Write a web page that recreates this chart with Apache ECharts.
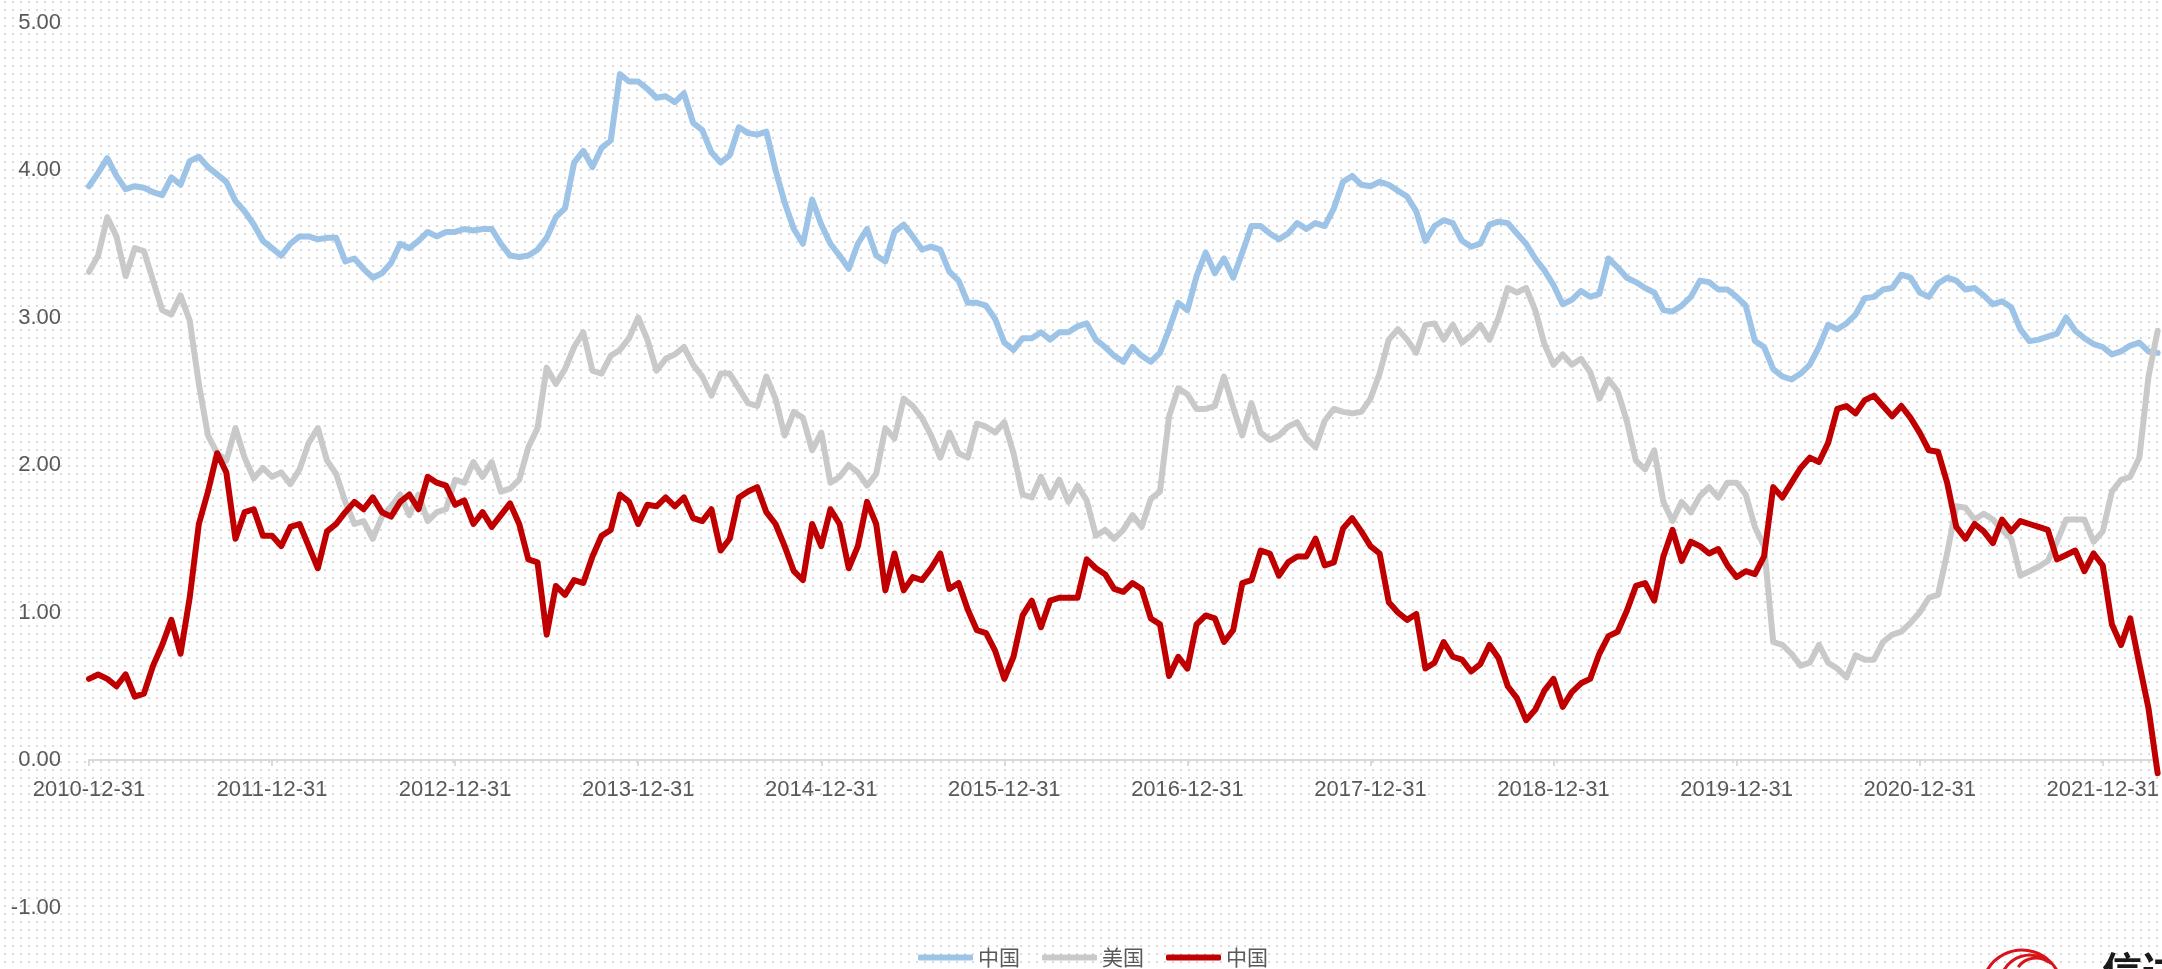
<!DOCTYPE html>
<html>
<head>
<meta charset="utf-8">
<title>中美10年期国债收益率</title>
<script src="https://cdn.jsdelivr.net/npm/echarts@6/dist/echarts.min.js"></script>
<style>
  html, body { margin: 0; padding: 0; background: #fff; }
  #main { width: 2162px; height: 969px; }
</style>
</head>
<body>
<div id="main"></div>
<script>
// 横轴刻度(每年年末)
const tickLabels = ['2010-12-31', '2011-12-31', '2012-12-31', '2013-12-31', '2014-12-31', '2015-12-31',
  '2016-12-31', '2017-12-31', '2018-12-31', '2019-12-31', '2020-12-31', '2021-12-31']
const startYear = 2011 // 即 2010-12-31
const step = 0.05 // 取样间隔, 单位: 年

// 中国10年期国债收益率 (%)
const chinaYield = [
  3.89, 3.98, 4.08, 3.96, 3.87, 3.89, 3.88, 3.85, 3.83, 3.95, 3.90, 4.06, 4.09, 4.02, 3.97, 3.92, 3.79, 3.72, 3.63, 3.52,
  3.47, 3.42, 3.50, 3.55, 3.55, 3.53, 3.54, 3.54, 3.38, 3.40, 3.33, 3.27, 3.30, 3.37, 3.50, 3.47, 3.52, 3.58, 3.55,
  3.58, 3.58, 3.60, 3.59, 3.60, 3.60, 3.50, 3.42, 3.41, 3.42, 3.46, 3.54, 3.68, 3.74, 4.05, 4.13, 4.02, 4.15, 4.20, 4.65,
  4.60, 4.60, 4.55, 4.49, 4.50, 4.46, 4.52, 4.32, 4.27, 4.12, 4.05, 4.10, 4.29, 4.25, 4.24, 4.26, 4.00, 3.78,
  3.60, 3.50, 3.80, 3.63, 3.50, 3.42, 3.33, 3.50, 3.60, 3.42, 3.38, 3.58, 3.63, 3.55, 3.46, 3.48, 3.46, 3.31, 3.25, 3.10,
  3.10, 3.08, 2.99, 2.83, 2.78, 2.86, 2.86, 2.90, 2.85, 2.90, 2.90, 2.94, 2.96, 2.85, 2.80, 2.74, 2.70, 2.80,
  2.74, 2.70, 2.76, 2.92, 3.10, 3.05, 3.28, 3.44, 3.30, 3.40, 3.27, 3.44, 3.62, 3.62, 3.57, 3.53, 3.57, 3.64, 3.60, 3.64,
  3.62, 3.74, 3.92, 3.96, 3.90, 3.89, 3.92, 3.90, 3.86, 3.82, 3.72, 3.52, 3.62, 3.66, 3.64, 3.52, 3.48, 3.50,
  3.63, 3.65, 3.64, 3.57, 3.50, 3.40, 3.32, 3.22, 3.09, 3.12, 3.18, 3.14, 3.16, 3.40, 3.34, 3.27, 3.24, 3.20, 3.17, 3.05,
  3.04, 3.08, 3.14, 3.25, 3.24, 3.19, 3.19, 3.14, 3.08, 2.84, 2.80, 2.65, 2.60, 2.58, 2.62, 2.68, 2.80, 2.95, 2.92,
  2.96, 3.02, 3.13, 3.14, 3.19, 3.20, 3.29, 3.27, 3.17, 3.14, 3.23, 3.27, 3.25, 3.19, 3.20, 3.15, 3.09, 3.11, 3.07, 2.92,
  2.84, 2.85, 2.87, 2.89, 3.00, 2.91, 2.86, 2.82, 2.80, 2.75, 2.77, 2.81, 2.83, 2.77, 2.76
]

// 美国10年期国债收益率 (%)
const usYield = [
  3.31, 3.42, 3.68, 3.55, 3.28, 3.47, 3.45, 3.25, 3.05, 3.02, 3.15, 2.98, 2.55, 2.20, 2.08, 2.03, 2.25, 2.05, 1.91, 1.98,
  1.92, 1.95, 1.87, 1.97, 2.15, 2.25, 2.03, 1.94, 1.75, 1.60, 1.62, 1.50, 1.65, 1.72, 1.80, 1.66, 1.80, 1.62, 1.68,
  1.70, 1.90, 1.88, 2.02, 1.92, 2.02, 1.82, 1.84, 1.90, 2.12, 2.25, 2.66, 2.55, 2.65, 2.80, 2.90, 2.64, 2.62, 2.74, 2.78,
  2.86, 3.00, 2.85, 2.64, 2.72, 2.75, 2.80, 2.68, 2.60, 2.47, 2.62, 2.62, 2.52, 2.42, 2.40, 2.60, 2.45, 2.20,
  2.36, 2.32, 2.10, 2.22, 1.88, 1.92, 2.00, 1.95, 1.86, 1.94, 2.25, 2.18, 2.45, 2.40, 2.32, 2.20, 2.05, 2.22, 2.08, 2.05,
  2.28, 2.26, 2.22, 2.29, 2.08, 1.80, 1.78, 1.92, 1.78, 1.90, 1.75, 1.86, 1.76, 1.52, 1.56, 1.50, 1.56, 1.66,
  1.58, 1.77, 1.82, 2.33, 2.52, 2.48, 2.38, 2.38, 2.40, 2.60, 2.39, 2.20, 2.42, 2.22, 2.17, 2.20, 2.26, 2.29, 2.18, 2.12,
  2.30, 2.38, 2.36, 2.35, 2.36, 2.45, 2.62, 2.85, 2.92, 2.85, 2.76, 2.95, 2.96, 2.85, 2.95, 2.83, 2.88, 2.95,
  2.85, 3.00, 3.20, 3.17, 3.20, 3.05, 2.82, 2.68, 2.75, 2.68, 2.72, 2.63, 2.45, 2.58, 2.50, 2.30, 2.03, 1.97, 2.10, 1.75,
  1.62, 1.75, 1.68, 1.79, 1.85, 1.78, 1.88, 1.88, 1.80, 1.58, 1.45, 0.80, 0.78, 0.72, 0.64, 0.66, 0.78, 0.66, 0.62,
  0.56, 0.71, 0.68, 0.68, 0.80, 0.85, 0.87, 0.93, 1.00, 1.10, 1.12, 1.40, 1.72, 1.71, 1.63, 1.67, 1.63, 1.56, 1.50, 1.25,
  1.28, 1.31, 1.35, 1.48, 1.63, 1.63, 1.63, 1.48, 1.55, 1.82, 1.90, 1.92, 2.05, 2.60, 2.91
]

// 中美利差 (%)
const spread = [
  0.55, 0.58, 0.55, 0.50, 0.58, 0.43, 0.45, 0.64, 0.78, 0.95, 0.72, 1.10, 1.60, 1.82, 2.08, 1.95, 1.50, 1.68, 1.70, 1.52,
  1.52, 1.45, 1.58, 1.60, 1.45, 1.30, 1.55, 1.60, 1.68, 1.75, 1.70, 1.78, 1.68, 1.65, 1.75, 1.80, 1.70, 1.92, 1.88,
  1.86, 1.73, 1.76, 1.60, 1.68, 1.58, 1.66, 1.74, 1.60, 1.36, 1.34, 0.85, 1.18, 1.12, 1.22, 1.20, 1.38, 1.52, 1.56, 1.80,
  1.75, 1.60, 1.73, 1.72, 1.78, 1.72, 1.78, 1.64, 1.62, 1.70, 1.42, 1.50, 1.78, 1.82, 1.85, 1.68, 1.60, 1.45,
  1.28, 1.22, 1.60, 1.45, 1.70, 1.60, 1.30, 1.45, 1.75, 1.60, 1.15, 1.40, 1.15, 1.24, 1.22, 1.30, 1.40, 1.16, 1.20, 1.02,
  0.88, 0.86, 0.74, 0.55, 0.70, 0.98, 1.08, 0.90, 1.08, 1.10, 1.10, 1.10, 1.36, 1.30, 1.26, 1.16, 1.14, 1.20,
  1.16, 0.96, 0.92, 0.57, 0.70, 0.62, 0.92, 0.98, 0.96, 0.80, 0.88, 1.20, 1.22, 1.42, 1.40, 1.25, 1.34, 1.38, 1.38, 1.50,
  1.32, 1.34, 1.57, 1.64, 1.55, 1.45, 1.40, 1.07, 1.00, 0.95, 0.99, 0.62, 0.66, 0.80, 0.70, 0.68, 0.60, 0.65,
  0.78, 0.69, 0.50, 0.42, 0.27, 0.34, 0.47, 0.55, 0.36, 0.46, 0.52, 0.55, 0.72, 0.84, 0.87, 1.01, 1.18, 1.20, 1.08, 1.38,
  1.56, 1.35, 1.48, 1.45, 1.40, 1.43, 1.32, 1.24, 1.28, 1.26, 1.38, 1.85, 1.78, 1.88, 1.98, 2.05, 2.02, 2.15, 2.38,
  2.40, 2.35, 2.44, 2.47, 2.40, 2.33, 2.40, 2.32, 2.22, 2.10, 2.09, 1.88, 1.58, 1.50, 1.60, 1.55, 1.47, 1.63, 1.55, 1.62,
  1.60, 1.58, 1.56, 1.36, 1.39, 1.42, 1.28, 1.40, 1.32, 0.92, 0.78, 0.96, 0.65, 0.35, -0.09
]

function toPoints (values) {
  return values.map((v, i) => [+(startYear + i * step).toFixed(2), v])
}

// 背景点阵
const dot = document.createElement('canvas')
dot.width = 8
dot.height = 8
const ctx = dot.getContext('2d')
ctx.fillStyle = '#ffffff'
ctx.fillRect(0, 0, 8, 8)
ctx.fillStyle = '#d9d9d9'
ctx.fillRect(4, 1, 2, 2)

const chart = echarts.init(document.getElementById('main'))

function line (name, values, color) {
  return {
    name: name,
    type: 'line',
    data: toPoints(values),
    symbol: 'none',
    showSymbol: false,
    color: color,
    lineStyle: { width: 6, color: color, join: 'round', cap: 'round' }
  }
}

const option = {
  animation: false,
  backgroundColor: { image: dot, repeat: 'repeat' },
  grid: { left: 89, right: 0, top: 22.5, bottom: 61.5 },
  legend: {
    left: 918,
    top: 947,
    padding: 0,
    icon: 'roundRect',
    itemWidth: 55,
    itemHeight: 6,
    itemGap: 22,
    textStyle: { fontSize: 21, color: '#595959', fontFamily: 'Noto Sans CJK SC' },
    data: ['中国', '美国', '中国 ']
  },
  xAxis: {
    type: 'value',
    min: startYear,
    max: 2022.3,
    interval: 1,
    offset: -147.5, // 横轴放在 0 处
    splitLine: { show: false },
    axisLine: { onZero: false, lineStyle: { color: '#d9d9d9', width: 2 } },
    axisTick: { show: true, length: 6, lineStyle: { color: '#d9d9d9', width: 2 } },
    axisLabel: {
      showMaxLabel: false,
      margin: 19,
      fontSize: 22,
      color: '#595959',
      fontFamily: 'Liberation Sans',
      formatter: function (v) {
        if (Math.abs(v - Math.round(v)) > 0.01) return ''
        return tickLabels[Math.round(v - startYear)] || ''
      }
    }
  },
  yAxis: {
    type: 'value',
    min: -1,
    max: 5,
    interval: 1,
    splitLine: { show: false },
    axisLine: { show: false },
    axisTick: { show: false },
    axisLabel: {
      margin: 28,
      fontSize: 22,
      color: '#595959',
      fontFamily: 'Liberation Sans',
      formatter: v => v.toFixed(2)
    }
  },
  graphic: [
    { type: 'arc', shape: { cx: 2022, cy: 990, r: 40, startAngle: Math.PI * 1.1, endAngle: Math.PI * 1.9 }, style: { stroke: '#d7141a', lineWidth: 3, fill: null } },
    { type: 'arc', shape: { cx: 2030, cy: 985, r: 30, startAngle: Math.PI * 1.15, endAngle: Math.PI * 1.75 }, style: { stroke: '#d7141a', lineWidth: 3, fill: null } },
    { type: 'arc', shape: { cx: 2036, cy: 980, r: 22, startAngle: Math.PI * 1.2, endAngle: Math.PI * 1.7 }, style: { stroke: '#d7141a', lineWidth: 3, fill: null } },
    { type: 'text', left: 2102, top: 951, style: { text: '信达证券', fontSize: 40, fontWeight: 'bold', fill: '#1a1a1a', fontFamily: 'Noto Sans CJK SC' } }
  ],
  series: [
    line('中国', chinaYield, '#9dc3e6'),
    line('美国', usYield, '#c9c9c9'),
    line('中国 ', spread, '#c00000')
  ]
}

chart.setOption(option)
window.addEventListener('resize', function () {
  chart.resize()
})
</script>
</body>
</html>
